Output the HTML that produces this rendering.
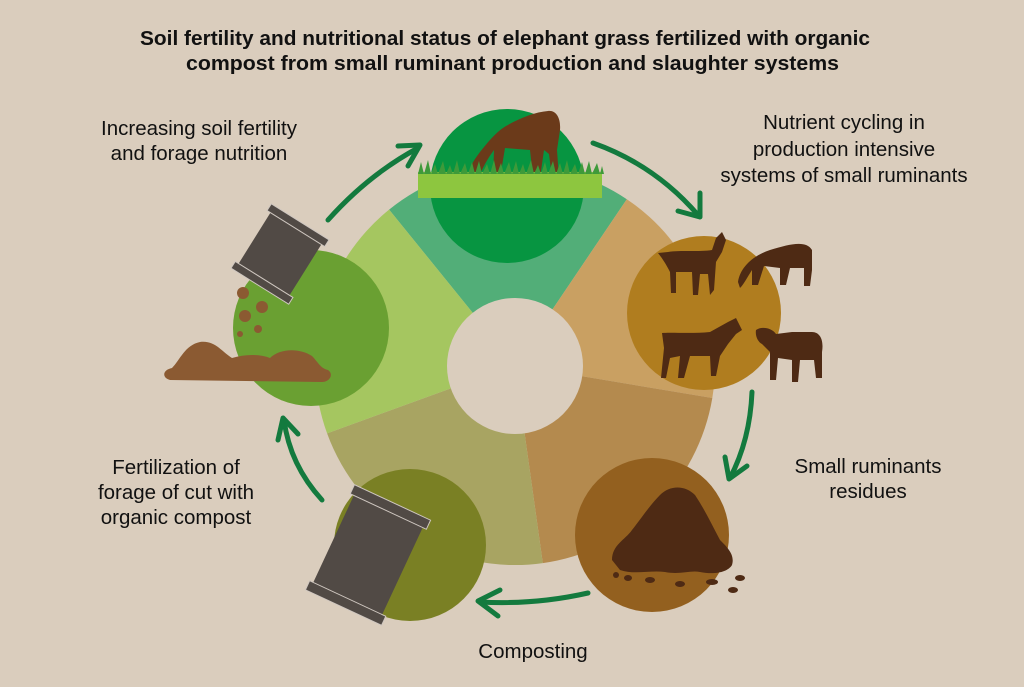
<!DOCTYPE html>
<html><head><meta charset="utf-8"><style>
html,body{margin:0;padding:0;background:#dacdbd;}
svg{display:block}
text{font-family:"Liberation Sans",Arial,sans-serif;fill:#111}
</style></head><body>
<svg width="1024" height="687" viewBox="0 0 1024 687" xmlns="http://www.w3.org/2000/svg">
<rect width="1024" height="687" fill="#dacdbd"/>
<text x="140" y="45" font-size="20" font-weight="bold" textLength="730" lengthAdjust="spacingAndGlyphs">Soil fertility and nutritional status of elephant grass fertilized with organic</text>
<text x="186" y="70" font-size="20" font-weight="bold" textLength="653" lengthAdjust="spacingAndGlyphs">compost from small ruminant production and slaughter systems</text>

<g font-size="20.5" text-anchor="middle">
<text x="199" y="135">Increasing soil fertility</text>
<text x="199" y="160">and forage nutrition</text>
<text x="844" y="129">Nutrient cycling in</text>
<text x="844" y="156">production intensive</text>
<text x="844" y="182">systems of small ruminants</text>
<text x="868" y="473">Small ruminants</text>
<text x="868" y="498">residues</text>
<text x="176" y="474">Fertilization of</text>
<text x="176" y="499">forage  of cut with</text>
<text x="176" y="524">organic compost</text>
<text x="533" y="658">Composting</text>
</g>

<g>
<path d="M515,365 L389.1,209.6 A200,200 0 0 1 626.8,199.2 Z" fill="#52ae78"/>
<path d="M515,365 L626.8,199.2 A200,200 0 0 1 712.3,398.0 Z" fill="#c9a062"/>
<path d="M515,365 L712.3,398.0 A200,200 0 0 1 542.8,563.1 Z" fill="#b48a4e"/>
<path d="M515,365 L542.8,563.1 A200,200 0 0 1 327.1,433.4 Z" fill="#a8a462"/>
<path d="M515,365 L327.1,433.4 A200,200 0 0 1 389.1,209.6 Z" fill="#a5c660"/>
</g>
<circle cx="515" cy="366" r="68" fill="#dacdbd"/>

<circle cx="507" cy="186" r="77" fill="#079541"/>
<circle cx="704" cy="313" r="77" fill="#b07d1f"/>
<circle cx="652" cy="535" r="77" fill="#93601f"/>
<circle cx="410" cy="545" r="76" fill="#7a8024"/>
<circle cx="311" cy="328" r="78" fill="#6aa032"/>

<path d="M470,178 C468,168 474,160 480,152 C488,142 496,132 506,126 C520,118 535,112 548,111 C556,110 561,118 560,130 L557,150 L559,178 L552,178 L549,154 L544,150 L540,178 L533,178 L530,150 L505,148 L500,178 L493,178 L494,150 C488,158 482,168 478,180 Z" fill="#6b3a1a"/>
<rect x="418" y="172" width="184" height="26" fill="#8dc63f"/>
<path d="M418,174 l3,-12 l3,12 l4,-14 l3,14 l4,-10 l3,10 l5,-13 l3,13 l4,-9 l3,9 l4,-14 l3,14 l5,-11 l3,11 l4,-12 l3,12 l4,-13 l3,13 l5,-10 l3,10 l4,-14 l3,14 l4,-11 l3,11 l5,-12 l3,12 l4,-13 l3,13 l4,-10 l3,10 l5,-14 l3,14 l4,-9 l3,9 l4,-12 l3,12 l5,-13 l3,13 l4,-11 l3,11 l4,-14 l3,14 l5,-10 l3,10 l4,-12 l3,12 l4,-13 l3,13 l5,-11 l3,11 l2,-8 l2,8 Z" fill="#3e9a3a"/>

<g fill="#4e2a14">
<path d="M658,253 L668,252 C680,250 700,252 712,250 L716,238 L722,232 L726,240 L722,252 L716,262 L714,290 L710,295 L708,274 L700,274 L698,295 L693,295 L692,272 L676,272 L676,293 L671,293 L670,272 C666,264 662,258 658,253 Z"/>
<path d="M738,282 C740,268 752,256 770,250 C790,244 806,240 812,250 L812,270 L810,286 L804,286 L804,268 L790,268 L786,285 L780,285 L780,268 L764,266 L758,285 L752,285 L752,270 C748,276 744,284 740,288 Z"/>
<path d="M662,333 C672,332 690,334 710,332 L728,322 L736,318 L742,330 L736,334 L728,344 L720,356 L716,376 L711,376 L710,356 L690,356 L684,378 L678,378 L680,356 L670,358 L666,378 L661,378 L664,348 Z"/>
<path d="M756,330 C762,326 772,328 776,334 L792,332 L812,332 C820,332 824,340 822,352 L822,378 L816,378 L814,360 L800,360 L798,382 L792,382 L792,360 L778,358 L776,380 L770,380 L770,352 L762,344 C758,342 755,336 756,330 Z"/>
</g>

<g fill="#4e2a14">
<path d="M612,560 C612,545 625,540 632,530 C640,520 650,505 660,495 C670,485 685,485 695,495 C705,510 712,525 720,540 C728,548 735,555 732,565 C728,572 715,575 700,572 C690,570 680,575 665,572 C650,570 635,575 620,570 Z"/>
<ellipse cx="616" cy="575" rx="3" ry="3"/><ellipse cx="628" cy="578" rx="4" ry="3"/>
<ellipse cx="650" cy="580" rx="5" ry="3"/><ellipse cx="680" cy="584" rx="5" ry="3"/>
<ellipse cx="712" cy="582" rx="6" ry="3"/><ellipse cx="740" cy="578" rx="5" ry="3"/><ellipse cx="733" cy="590" rx="5" ry="3"/>
</g>

<g transform="translate(280,254) rotate(32)">
<rect x="-30" y="-32" width="60" height="64" fill="#514a45"/>
<rect x="-34" y="-38" width="68" height="8" fill="#514a45" stroke="#cfc7c0" stroke-width="1"/>
<rect x="-34" y="30" width="68" height="8" fill="#514a45" stroke="#cfc7c0" stroke-width="1"/>
</g>
<g fill="#8b5a32">
<circle cx="243" cy="293" r="6"/><circle cx="262" cy="307" r="6"/><circle cx="245" cy="316" r="6"/>
<circle cx="258" cy="329" r="4"/><circle cx="240" cy="334" r="3"/>
<path d="M170,380 C162,378 162,370 172,368 C180,360 185,345 200,342 C215,340 222,352 232,358 C245,354 260,354 270,358 C280,348 300,348 312,356 C318,362 320,368 328,370 C334,374 330,382 322,382 Z"/>
</g>

<g transform="translate(368,555) rotate(25)">
<rect x="-38" y="-50" width="76" height="100" fill="#514a45"/>
<rect x="-42" y="-58" width="84" height="10" fill="#514a45" stroke="#cfc7c0" stroke-width="1"/>
<rect x="-42" y="48" width="84" height="10" fill="#514a45" stroke="#cfc7c0" stroke-width="1"/>
</g>

<g fill="none" stroke="#137a3e" stroke-width="5" stroke-linecap="round" stroke-linejoin="round">
<path d="M328,220 Q368,175 418,148"/><path d="M398,146 L420,145 L408,166"/>
<path d="M593,143 Q655,165 698,215"/><path d="M700,193 L700,217 L678,211"/>
<path d="M752,392 Q750,440 730,478"/><path d="M725,457 L729,479 L747,466"/>
<path d="M588,593 Q535,605 480,602"/><path d="M500,590 L478,601 L498,616"/>
<path d="M322,500 Q290,465 284,420"/><path d="M278,440 L283,418 L298,434"/>
</g>
</svg>
</body></html>
